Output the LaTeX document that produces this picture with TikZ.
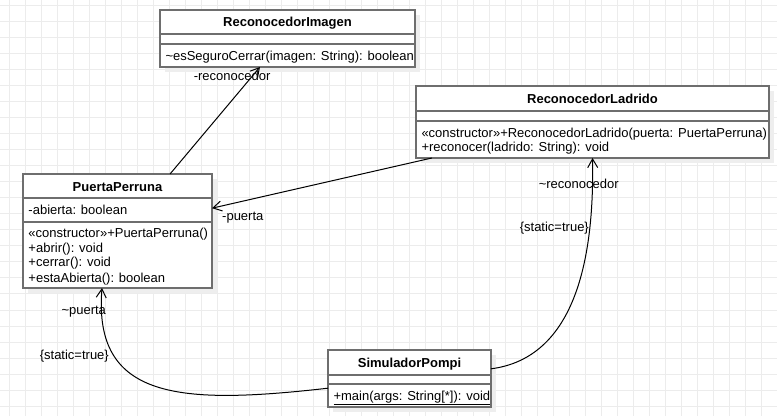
\documentclass[tikz,border=0pt]{standalone}
\usepackage{fontspec}
\setmainfont{Liberation Sans}
\usetikzlibrary{arrows.meta,calc,shadows}

\definecolor{gridgray}{RGB}{236,236,236}
\definecolor{boxgray}{RGB}{110,110,110}
\definecolor{shadowgray}{RGB}{238,238,238}
\newcommand{\umlsize}{\fontsize{9.75pt}{11pt}\selectfont}

\tikzset{every picture/.style={line width=0.75pt}}
\tikzset{
  gridline/.style={draw=gridgray, line width=0.75pt},
  classbox/.style={draw=boxgray, line width=1pt, fill=white, rectangle, inner sep=0pt, outer sep=0pt, anchor=north west,
    general shadow={fill=shadowgray, shadow xshift=3.75pt, shadow yshift=-3.75pt}},
  divider/.style={draw=boxgray, line width=1pt},
  classname/.style={font=\umlsize\bfseries, inner sep=0pt, anchor=base},
  member/.style={font=\umlsize, inner sep=0pt, anchor=base west},
  role/.style={font=\umlsize, inner sep=0pt, anchor=base west},
  assoc/.style={draw=black, line width=0.75pt, -{Straight Barb[length=6.5pt,width=7.5pt]}},
}

\begin{document}
\begin{tikzpicture}[x=0.75pt,y=0.75pt,yscale=-1,xscale=1]
	\useasboundingbox (0,0) rectangle (777,416);

	%Background grid
	\foreach \gx in {9,25,...,770} \draw [gridline] (\gx,0) -- (\gx,416) ;
	\foreach \gy in {6,22,...,410} \draw [gridline] (0,\gy) -- (777,\gy) ;

	%Shape: Class ReconocedorImagen
	\node [classbox, minimum width=191.25pt, minimum height=42.75pt] (ri) at (160,10) {};
	\draw [divider] (160,34) -- (415,34) ;
	\draw [divider] (160,44) -- (415,44) ;
	%Shape: Class ReconocedorLadrido
	\node [classbox, minimum width=264.75pt, minimum height=54pt] (rl) at (416,86) {};
	\draw [divider] (416,111) -- (769,111) ;
	\draw [divider] (416,121) -- (769,121) ;
	%Shape: Class PuertaPerruna
	\node [classbox, minimum width=141.75pt, minimum height=85.5pt] (pp) at (23,174) {};
	\draw [divider] (23,198) -- (212,198) ;
	\draw [divider] (23,222) -- (212,222) ;
	%Shape: Class SimuladorPompi
	\node [classbox, minimum width=122.25pt, minimum height=42.75pt] (sp) at (328,350) {};
	\draw [divider] (328,375) -- (491,375) ;
	\draw [divider] (328,384) -- (491,384) ;

	% Text Node
	\node [classname] (riname) at (287.5,27) {ReconocedorImagen};
	% Text Node
	\node [member] (riop) at (165,60.7) {\textasciitilde esSeguroCerrar(imagen: String): boolean};
	% Text Node
	\node [classname] (rlname) at (592.5,103.3) {ReconocedorLadrido};
	% Text Node
	\node [member] (rlopa) at (421,137.3) {«constructor»+ReconocedorLadrido(puerta: PuertaPerruna)};
	% Text Node
	\node [member] (rlopb) at (421,151.7) {+reconocer(ladrido: String): void};
	% Text Node
	\node [classname] (ppname) at (117.5,191.3) {PuertaPerruna};
	% Text Node
	\node [member] (ppattr) at (28,214.3) {-abierta: boolean};
	% Text Node
	\node [member] (ppopa) at (28,237.3) {«constructor»+PuertaPerruna()};
	% Text Node
	\node [member] (ppopb) at (28,252.3) {+abrir(): void};
	% Text Node
	\node [member] (ppopc) at (28,267) {+cerrar(): void};
	% Text Node
	\node [member] (ppopd) at (28,282) {+estaAbierta(): boolean};
	% Text Node
	\node [classname] (spname) at (409.5,367) {SimuladorPompi};
	% Text Node
	\node [member] (spop) at (333,400) {\underline{+main(args: String[*]): void}};

	%Connectors
	\draw [assoc] ($(pp.north west)!.778!(pp.north east)$) -- ($(ri.south west)!.392!(ri.south east)$) ;
	\draw [assoc] ($(rl.south west)!.045!(rl.south east)$) -- ($(pp.north east)!.3!(pp.south east)$) ;
	\draw [assoc] ($(sp.north east)!.33!(sp.south east)$) .. controls (560,360) and (595,290) .. (rl.south) ;
	\draw [assoc] ($(sp.north west)!.67!(sp.south west)$) .. controls (180,405) and (93,400) .. ($(pp.south west)!.418!(pp.south east)$) ;

	% Text Node
	\node [role] (rirole) at (193.3,81) {-reconocedor};
	% Text Node
	\node [role] (pprole) at (221.7,220.7) {-puerta};
	% Text Node
	\node [role] (rlrole) at (538.3,188.3) {\textasciitilde reconocedor};
	% Text Node
	\node [role] (rlstatic) at (519.3,231.7) {\{static=true\}};
	% Text Node
	\node [role] (pprolesp) at (61,314.3) {\textasciitilde puerta};
	% Text Node
	\node [role] (ppstatic) at (39.3,359.3) {\{static=true\}};

\end{tikzpicture}
\end{document}
